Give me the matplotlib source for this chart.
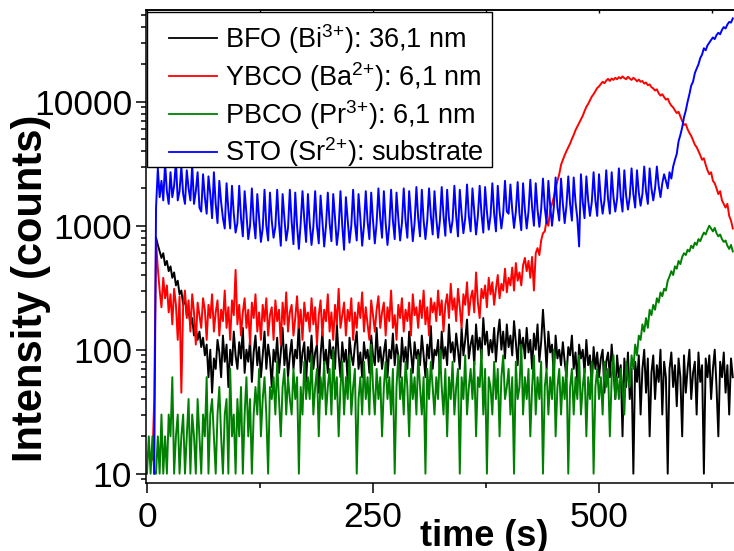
import numpy as np
import matplotlib
matplotlib.use("Agg")
import matplotlib.pyplot as plt
from matplotlib.ticker import FixedLocator, NullFormatter
from matplotlib.legend_handler import HandlerLine2D
from matplotlib.lines import Line2D
from matplotlib.patches import Rectangle

nan = np.nan

# time axis (s), 2 s steps
time_s = np.arange(0, 650, 2)

bfo_bi = [
    nan, nan, nan, nan, nan, 800, 700, 620, 550, 600,
    480, 520, 430, 470, 380, 420, 330, 360, 280, 300,
    230, 260, 190, 210, 160, 180, 130, 150, 120, 140,
    105, 125, 90, 110, 60, 100, 45, 85, 70, 120,
    95, 60, 130, 80, 110, 50, 100, 75, 140, 90,
    70, 115, 85, 150, 65, 100, 80, 120, 55, 95,
    130, 75, 105, 60, 90, 140, 70, 110, 85, 50,
    100, 80, 125, 65, 95, 150, 75, 110, 60, 90,
    120, 70, 100, 85, 170, 65, 95, 115, 55, 105,
    80, 130, 70, 95, 110, 45, 90, 140, 75, 100,
    65, 120, 85, 105, 70, 160, 90, 60, 115, 80,
    100, 55, 125, 90, 75, 110, 140, 70, 95, 60,
    115, 85, 100, 65, 130, 90, 75, 150, 80, 105,
    70, 95, 120, 60, 100, 85, 135, 75, 110, 90,
    60, 125, 80, 105, 70, 140, 95, 65, 115, 85,
    100, 75, 130, 90, 60, 110, 85, 155, 70, 100,
    90, 120, 65, 140, 85, 105, 75, 160, 95, 115,
    80, 135, 100, 70, 150, 90, 120, 175, 85, 110,
    130, 75, 160, 100, 125, 85, 180, 110, 140, 90,
    120, 95, 150, 80, 130, 175, 100, 140, 85, 160,
    105, 130, 90, 170, 115, 75, 145, 100, 125, 85,
    150, 95, 120, 70, 135, 100, 160, 80, 115, 210,
    125, 70, 140, 95, 110, 60, 130, 85, 100, 75,
    115, 80, 60, 105, 90, 130, 70, 95, 55, 110,
    85, 100, 65, 120, 75, 90, 50, 105, 70, 95,
    60, 85, 100, 45, 80, 95, 60, 110, 70, 40,
    90, 60, 75, 20, 85, 50, 95, 40, 70, 10,
    80, 55, 90, 30, 70, 100, 45, 85, 20, 65,
    90, 40, 75, 55, 100, 30, 80, 60, 10, 70,
    95, 50, 75, 35, 85, 60, 20, 90, 45, 70,
    100, 40, 65, 80, 30, 95, 55, 75, 10, 85,
    60, 90, 40, 70, 100, 50, 20, 80, 60, 95,
    45, 75, 30, 85, 60,
]

ybco_ba = [
    nan, nan, nan, 13, 40, 750, 450, 300, 220, 380,
    260, 330, 200, 280, 160, 310, 230, 120, 270, 45,
    230, 300, 180, 250, 140, 280, 200, 110, 240, 190,
    150, 260, 210, 120, 230, 180, 280, 140, 200, 250,
    130, 210, 170, 300, 150, 220, 120, 250, 190, 440,
    160, 230, 130, 200, 260, 150, 210, 110, 240, 180,
    280, 140, 200, 120, 230, 170, 260, 130, 190, 220,
    120, 250, 170, 210, 110, 240, 160, 290, 140, 200,
    230, 130, 180, 270, 150, 210, 120, 240, 170, 200,
    140, 260, 160, 220, 110, 190, 250, 130, 210, 170,
    280, 140, 200, 120, 230, 160, 310, 150, 190, 240,
    130, 210, 170, 260, 120, 200, 150, 240, 180, 290,
    140, 220, 160, 120, 250, 190, 140, 210, 270, 150,
    200, 240, 130, 220, 170, 300, 150, 190, 120, 230,
    180, 260, 140, 210, 170, 240, 130, 280, 190, 220,
    150, 250, 180, 300, 160, 220, 130, 260, 200, 240,
    170, 300, 190, 250, 140, 230, 280, 180, 340, 210,
    260, 170, 310, 220, 150, 280, 230, 350, 190, 260,
    300, 200, 420, 240, 180, 310, 260, 330, 220, 380,
    280, 350, 230, 310, 400, 260, 340, 300, 450, 290,
    380, 330, 460, 300, 500, 360, 420, 330, 480, 550,
    430, 520, 380, 560, 300, 600, 660, 580, 760, 870,
    900, 1100, 1000, 1350, 1500, 1700, 2000, 2300, 2600, 3100,
    3400, 3700, 4000, 4300, 4600, 5000, 5400, 5900, 6300, 6700,
    7200, 7700, 8400, 9100, 9600, 10300, 11000, 11500, 12200, 12900,
    13300, 13900, 14500, 14100, 14800, 15300, 14700, 15400, 15000, 15600,
    15200, 15800, 15400, 16000, 15500, 15200, 15900, 15400, 15000, 15600,
    15200, 14600, 15100, 14500, 14700, 14000, 14300, 13600, 13800, 13100,
    12800, 12300, 12600, 11700, 11200, 11500, 10900, 10400, 10600, 9800,
    9300, 9000, 8500, 8100, 8300, 7600, 7000, 6500, 6600, 6000,
    5600, 5300, 4900, 4500, 4300, 4000, 3700, 3400, 3500, 3100,
    2800, 2600, 2700, 2300, 2200, 2000, 1800, 1900, 1600, 1500,
    1400, 1500, 1200, 1100, 950,
]

pbco_pr = [
    10, 20, 10, 20, 10, 10, 20, 10, 30, 10,
    20, 10, 30, 20, 60, 10, 20, 30, 10, 20,
    30, 10, 20, 40, 10, 30, 20, 10, 40, 20,
    10, 30, 20, 60, 10, 30, 40, 20, 10, 30,
    50, 20, 10, 30, 40, 10, 70, 20, 30, 10,
    40, 20, 50, 10, 30, 60, 20, 40, 10, 30,
    50, 30, 70, 20, 40, 60, 30, 10, 50, 40,
    60, 30, 80, 40, 20, 50, 70, 30, 60, 40,
    30, 70, 40, 60, 10, 50, 30, 80, 40, 60,
    40, 90, 30, 50, 70, 20, 60, 40, 80, 30,
    50, 70, 30, 100, 40, 60, 20, 50, 80, 30,
    60, 40, 90, 30, 50, 70, 10, 40, 60, 30,
    80, 40, 60, 30, 110, 50, 30, 70, 40, 60,
    20, 50, 80, 40, 60, 30, 70, 10, 50, 90,
    40, 60, 30, 80, 50, 20, 70, 40, 60, 30,
    90, 50, 30, 60, 10, 70, 40, 80, 50, 30,
    60, 40, 100, 50, 30, 70, 20, 60, 40, 80,
    30, 50, 70, 10, 60, 40, 90, 30, 50, 70,
    40, 80, 20, 60, 50, 100, 30, 70, 10, 60,
    50, 30, 80, 40, 70, 20, 60, 90, 40, 50,
    70, 30, 60, 10, 80, 40, 50, 110, 30, 60,
    40, 70, 20, 50, 90, 30, 60, 40, 80, 10,
    50, 70, 30, 60, 40, 100, 20, 50, 70, 30,
    60, 40, 80, 10, 50, 70, 30, 60, 40, 90,
    30, 50, 70, 20, 60, 40, 80, 10, 50, 70,
    40, 60, 30, 80, 50, 70, 20, 60, 90, 40,
    60, 40, 70, 50, 30, 80, 60, 50, 90, 70,
    110, 90, 130, 120, 160, 140, 180, 150, 210, 190,
    230, 210, 260, 240, 290, 270, 310, 300, 360, 390,
    430, 400, 470, 450, 520, 490, 560, 600, 580, 640,
    620, 690, 660, 730, 700, 780, 750, 820, 880, 850,
    930, 1000, 950, 900, 960, 870, 820, 850, 780, 740,
    760, 690, 650, 700, 620,
]

sto_sr = [
    nan, nan, nan, nan, 10, 1400, 2900, 1700, 2300, 1600,
    3200, 1900, 1500, 2700, 1700, 2100, 3300, 1600, 1900, 3000,
    1800, 1500, 2800, 2000, 1600, 3100, 1500, 1900, 2700, 1400,
    1300, 2600, 1700, 1250, 2500, 1800, 1150, 2700, 1500, 1050,
    2300, 1550, 1150, 950, 2200, 1350, 950, 2100, 1250, 880,
    1050, 2100, 1150, 820, 1900, 1250, 780, 1000, 2000, 1100,
    790, 1800, 1150, 740, 950, 1950, 1000, 760, 1850, 1100,
    800, 980, 1950, 1050, 690, 1800, 1150, 760, 960, 1950,
    1080, 710, 1850, 1000, 650, 1050, 1900, 1120, 740, 1800,
    1050, 700, 980, 1900, 1000, 720, 1750, 1100, 680, 1000,
    1850, 1050, 750, 1800, 1150, 700, 950, 1900, 1000, 640,
    1700, 1100, 730, 1000, 1950, 1050, 760, 1800, 1150, 690,
    1000, 1900, 1080, 780, 1850, 1100, 720, 1050, 2000, 1150,
    800, 1900, 1050, 700, 1000, 1950, 1100, 780, 1850, 1150,
    760, 1050, 2000, 1100, 800, 1900, 1200, 750, 1050, 2050,
    1150, 820, 1950, 1100, 780, 1100, 2000, 1200, 850, 1900,
    1150, 800, 1100, 2050, 1200, 830, 1950, 1150, 880, 1100,
    2100, 1200, 820, 1950, 1250, 870, 1150, 2150, 1200, 900,
    2000, 1300, 850, 1200, 2100, 1250, 880, 2050, 1300, 930,
    1200, 2200, 1250, 900, 2100, 1300, 950, 1250, 2300, 1300,
    1250, 2150, 1350, 960, 1300, 2250, 1250, 920, 2200, 1350,
    950, 1300, 2350, 1400, 1000, 2200, 1350, 980, 1350, 2400,
    1400, 1050, 2300, 1450, 1000, 1400, 2450, 1400, 1100, 2400,
    1500, 1050, 1450, 2500, 1500, 1100, 2450, 1550, 1150, 680,
    2600, 1550, 1150, 2500, 1600, 1200, 1550, 2700, 1600, 1200,
    2600, 1650, 1250, 1600, 2800, 1650, 1250, 2700, 1700, 1300,
    1650, 2900, 1700, 1300, 2800, 1750, 1350, 1700, 2900, 1800,
    1400, 2800, 1850, 1450, 1800, 3000, 1900, 1500, 2900, 2000,
    1600, 2000, 3000, 2100, 1700, 2200, 2600, 2300, 2000, 2700,
    2400, 3000, 3400, 3800, 4800, 5400, 6200, 7500, 8500, 10000,
    11500, 13500, 14500, 17000, 18500, 20000, 22500, 24000, 27000, 26000,
    28500, 30000, 31500, 33000, 32000, 34500, 36000, 35000, 38000, 40000,
    39000, 42000, 44000, 43500, 47000,
]

labels = [
    r"BFO (Bi$^{3{+}}$): 36,1 nm",
    r"YBCO (Ba$^{2{+}}$): 6,1 nm",
    r"PBCO (Pr$^{3{+}}$): 6,1 nm",
    r"STO (Sr$^{2{+}}$): substrate",
]
colors = ["#000000", "#ff0000", "#008000", "#0000ff"]
series = [bfo_bi, ybco_ba, pbco_pr, sto_sr]

x_ticks = [0, 250, 500, 750]
x_minor = [125, 375, 625]
y_ticks = [10, 100, 1000, 10000]
y_ticklabels = ["10", "100", "1000", "10000"]

plt.rcParams["font.family"] = ["Liberation Sans", "DejaVu Sans"]
plt.rcParams["mathtext.fontset"] = "custom"
plt.rcParams["mathtext.rm"] = "Liberation Sans"
plt.rcParams["mathtext.it"] = "Liberation Sans:italic"
plt.rcParams["mathtext.bf"] = "Liberation Sans:bold"
plt.rcParams["mathtext.default"] = "regular"

W, H = 734, 551
fig = plt.figure(figsize=(W / 100, H / 100), dpi=100)
x_left_px, x_right_px = 146, 820.5
y_top_px, y_bot_px = 10, 483
ax = fig.add_axes([x_left_px / W, 1 - y_bot_px / H,
                   (x_right_px - x_left_px) / W, (y_bot_px - y_top_px) / H])

for vals, c, lab in zip(series, colors, labels):
    ax.plot(time_s, np.array(vals, dtype=float), color=c, lw=1.4, label=lab)

ax.set_yscale("log")
ax.set_xlim(-1.1, 745)
ax.set_ylim(8.41, 54950)

ax.xaxis.set_major_locator(FixedLocator(x_ticks))
ax.xaxis.set_minor_locator(FixedLocator(x_minor))
ax.set_xticklabels([str(v) for v in x_ticks])
ax.yaxis.set_major_locator(FixedLocator(y_ticks))
ax.set_yticklabels(y_ticklabels)
minor_y = [m * 10 ** e for e in range(0, 5) for m in range(2, 10)]
ax.yaxis.set_minor_locator(FixedLocator(minor_y))
ax.yaxis.set_minor_formatter(NullFormatter())

for lab in ax.get_xticklabels() + ax.get_yticklabels():
    lab.set_fontsize(25.5)

ax.tick_params(axis="both", which="major", direction="out", length=7, width=1.1,
               right=False, top=False)
ax.tick_params(axis="both", which="minor", direction="out", length=3.6, width=1.1,
               right=False, top=False)
ax.tick_params(axis="x", which="major", pad=6)
ax.tick_params(axis="y", which="major", pad=3)

top = ax.secondary_xaxis("top")
top.xaxis.set_major_locator(FixedLocator(x_ticks))
top.xaxis.set_minor_locator(FixedLocator(x_minor))
top.tick_params(axis="x", which="both", direction="in", length=2.5, width=1.0,
                labeltop=False)
top.spines["top"].set_linewidth(1.1)

for s in ax.spines.values():
    s.set_linewidth(1.1)

# legend frame (white box) drawn explicitly
box = Rectangle((147 / W, 1 - 167 / H), (492 - 147) / W, (167 - 12) / H,
                transform=fig.transFigure, facecolor="white", edgecolor="black",
                linewidth=1.0, zorder=4.5, clip_on=False)
ax.add_patch(box)

leg = ax.legend(loc="upper left", bbox_to_anchor=(169 / W, 1 - 22 / H),
                bbox_transform=fig.transFigure, fontsize=19.5, frameon=False,
                borderaxespad=0, borderpad=0, handlelength=1.78,
                handletextpad=0.3, labelspacing=0.15,
                handler_map={Line2D: HandlerLine2D()})
leg.set_zorder(5)
for line in leg.get_lines():
    line.set_linewidth(1.3)

fig.text(31 / W, 1 - 288 / H, "Intensity (counts)", rotation=90, ha="center",
         va="center", fontsize=30, fontweight="bold")
fig.text(484 / W, 1 - 536 / H, "time (s)", ha="center", va="center",
         fontsize=26, fontweight="bold")

fig.savefig("out.png", dpi=100)
